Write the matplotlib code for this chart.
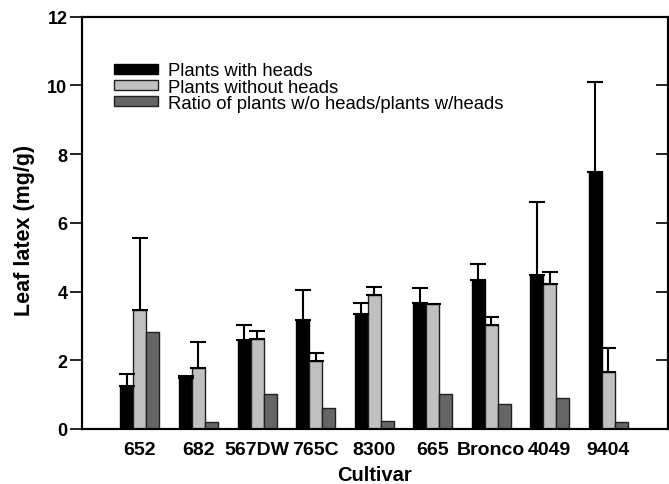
import matplotlib
matplotlib.use("Agg")
import matplotlib.pyplot as plt
import numpy as np

cultivars = ["652", "682", "567DW", "765C", "8300", "665", "Bronco", "4049", "9404"]
with_heads = [1.25, 1.48, 2.60, 3.18, 3.34, 3.68, 4.34, 4.49, 7.47]
with_heads_err = [0.34, 0.07, 0.43, 0.85, 0.33, 0.41, 0.46, 2.11, 2.63]
without_heads = [3.47, 1.77, 2.62, 1.97, 3.90, 3.63, 3.02, 4.22, 1.67]
without_heads_err = [2.09, 0.77, 0.23, 0.25, 0.23, 0.0, 0.25, 0.36, 0.70]
ratio = [2.82, 0.21, 1.02, 0.62, 0.22, 1.02, 0.72, 0.91, 0.21]

plt.rcParams['font.family'] = ['Liberation Sans', 'DejaVu Sans']

fig = plt.figure(figsize=(6.69, 4.85), dpi=100)
ax = fig.add_axes([82/669, 55/485, (668-82)/669, (430-17.5)/485])

x = np.arange(len(cultivars))
w = 0.222
ekw = dict(elinewidth=1.5, capthick=1.5, ecolor='black')
cap = 6

ax.bar(x - w, with_heads, w, color='black', edgecolor='black', linewidth=1,
       yerr=[np.zeros(len(x)), with_heads_err], capsize=cap, error_kw=ekw,
       label='Plants with heads')
ax.bar(x, without_heads, w, color='#c0c0c0', edgecolor='#202020', linewidth=1,
       yerr=[np.zeros(len(x)), without_heads_err], capsize=cap, error_kw=ekw,
       label='Plants without heads')
ax.bar(x + w, ratio, w, color='#656565', edgecolor='#202020', linewidth=1,
       label='Ratio of plants w/o heads/plants w/heads')

ax.set_xlim(-0.99, 9.02)
ax.set_ylim(0, 12)
ax.set_yticks(np.arange(0, 13, 2))
ax.set_xticks(x)
ax.set_xticklabels(cultivars, fontsize=14, fontweight='bold')
ax.tick_params(axis='x', length=0, pad=9)
ax.tick_params(axis='y', direction='out', length=9, width=1.2, labelsize=13, pad=1.5)
for lab in ax.get_yticklabels():
    lab.set_fontweight('bold')

ax2 = ax.twinx()
ax2.set_ylim(0, 12)
ax2.set_yticks(np.arange(0, 13, 2))
ax2.tick_params(axis='y', direction='in', length=9, width=1.2, labelright=False)

for a in (ax, ax2):
    for s in a.spines.values():
        s.set_linewidth(1.5)

ax.set_ylabel('Leaf latex (mg/g)', fontsize=15.5, fontweight='bold', labelpad=8)
ax.yaxis.set_label_coords(-0.08, 0.485)
ax.set_xlabel('Cultivar', fontsize=14.5, fontweight='bold', labelpad=5)

leg = ax.legend(loc='upper left', bbox_to_anchor=(0.042, 0.9065), frameon=False,
                fontsize=13.3, handlelength=2.4, handleheight=0.5,
                labelspacing=-0.05, handletextpad=0.55, borderaxespad=0)

fig.savefig('out.png', dpi=100)
